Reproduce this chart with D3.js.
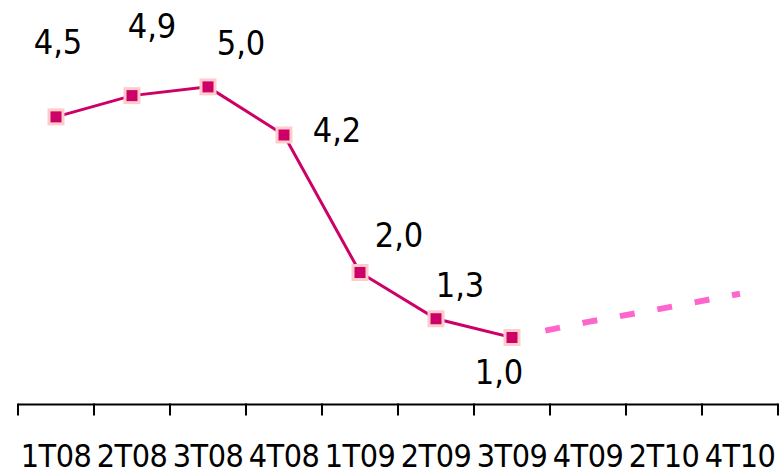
<!DOCTYPE html>
<html>
<head>
<meta charset="utf-8">
<script src="https://cdn.jsdelivr.net/npm/d3@7"></script>
<style>
  body { margin: 0; background: #fff; }
  svg { display: block; }
  text { font-family: "DejaVu Sans Condensed", "DejaVu Sans", sans-serif; fill: #000; }
</style>
</head>
<body>
<svg id="chart" width="783" height="474"></svg>
<script>
// quarters on the x axis
var quarters = ["1T08", "2T08", "3T08", "4T08", "1T09", "2T09", "3T09", "4T09", "2T10", "4T10"];
// observed values (labelled), null where no data
var actual = [4.53, 4.87, 5.01, 4.24, 2.04, 1.30, 1.00, null, null, null];
// forecast continues from the last observation
var forecast = [null, null, null, null, null, null, 1.00, 1.25, 1.47, 1.70];
// manual label offsets (dx, dy from point)
var labelOffsets = [[2, -63], [20, -58], [33, -32], [53, 7], [39, -26], [24, -22], [-13, 46]];

var svg = d3.select("#chart");
var axisY = 404.5;
var fontStack = '"DejaVu Sans Condensed", "DejaVu Sans", sans-serif';

var x = d3.scaleBand().domain(quarters).range([18, 778]);
var y = d3.scaleLinear().domain([0, 6.4]).range([400, 0]);
var cx = function (q) { return x(q) + x.bandwidth() / 2; };

var fmt = function (v) { return d3.format(".1f")(v).replace(".", ","); };

// axis line + ticks at band edges
var edges = quarters.map(function (q) { return x(q); }).concat([x.range()[1]]);
var axis = svg.append("g").attr("class", "x-axis");
axis.append("line")
  .attr("x1", x.range()[0]).attr("x2", x.range()[1])
  .attr("y1", axisY).attr("y2", axisY)
  .attr("stroke", "#000").attr("stroke-width", 2);
axis.selectAll(".tick-line").data(edges).enter().append("line")
  .attr("class", "tick-line")
  .attr("x1", function (d) { return d; }).attr("x2", function (d) { return d; })
  .attr("y1", axisY - 1).attr("y2", axisY + 11)
  .attr("stroke", "#000").attr("stroke-width", 2);

var labels = svg.append("g")
  .attr("transform", "translate(0," + axisY + ")")
  .call(d3.axisBottom(x).tickSize(0));
labels.select(".domain").remove();
labels.selectAll("text")
  .attr("y", 62).attr("dy", 0)
  .style("font-family", fontStack)
  .style("font-size", "32px")
  .style("letter-spacing", "-0.5px")
  .attr("fill", "#000");

var line = d3.line()
  .defined(function (d) { return d.v != null; })
  .x(function (d) { return cx(d.q); })
  .y(function (d) { return y(d.v); });

var actualPts = quarters.map(function (q, i) { return { q: q, v: actual[i] }; });
var forecastPts = quarters.map(function (q, i) { return { q: q, v: forecast[i] }; });

// forecast dashed line
var fPath = svg.append("path")
  .datum(forecastPts)
  .attr("d", line)
  .attr("fill", "none")
  .attr("stroke", "#ff66cc")
  .attr("stroke-width", 6);
var len = fPath.node().getTotalLength();
var dash = [0, 34];
while (d3.sum(dash) < len + 40) dash.push(15, 23);
fPath.attr("stroke-dasharray", dash.join(","));

// observed line
svg.append("path")
  .datum(actualPts)
  .attr("d", line)
  .attr("fill", "none")
  .attr("stroke", "#cc0066")
  .attr("stroke-width", 3);

var obs = actualPts.filter(function (d) { return d.v != null; });

svg.selectAll(".marker").data(obs).enter().append("rect")
  .attr("class", "marker")
  .attr("x", function (d) { return cx(d.q) - 7; })
  .attr("y", function (d) { return y(d.v) - 7; })
  .attr("width", 14).attr("height", 14)
  .attr("fill", "#cc0066")
  .attr("stroke", "#ffcccc")
  .attr("stroke-width", 3);

svg.selectAll(".value-label").data(obs).enter().append("text")
  .attr("class", "value-label")
  .attr("text-anchor", "middle")
  .attr("x", function (d, i) { return cx(d.q) + labelOffsets[i][0]; })
  .attr("y", function (d, i) { return y(d.v) + labelOffsets[i][1]; })
  .style("font-size", "34px")
  .text(function (d) { return fmt(d.v); });
</script>
</body>
</html>
